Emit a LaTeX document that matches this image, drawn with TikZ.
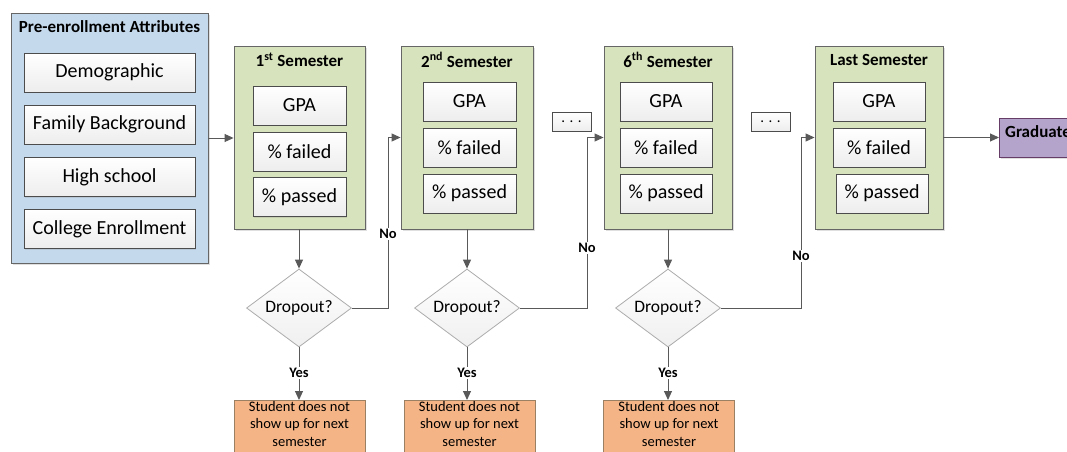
\documentclass[tikz,border=0pt]{standalone}
\usepackage{fontspec}
\setmainfont{Carlito}
\usetikzlibrary{arrows.meta,shapes.geometric,shadows}
\definecolor{preblue}{RGB}{197,217,236}
\definecolor{semgreen}{RGB}{215,227,188}
\definecolor{orangebox}{RGB}{245,180,134}
\definecolor{gradpurple}{RGB}{180,164,204}
\definecolor{linegray}{RGB}{89,89,89}
\tikzset{
  outer/.style={draw=gray!80!black, line width=0.9pt, inner sep=0pt, drop shadow={shadow xshift=1.5pt,shadow yshift=-1.5pt,opacity=0.25}},
  prebox/.style={outer, fill=preblue, minimum width=197pt, minimum height=250pt},
  sembox/.style={outer, fill=semgreen, minimum height=183pt},
  attr/.style={draw=gray!60!black, line width=0.8pt, top color=white, bottom color=gray!14, minimum width=171pt, minimum height=39pt, inner sep=0pt, font=\fontsize{20}{24}\selectfont, drop shadow={shadow xshift=1pt,shadow yshift=-1pt,opacity=0.2}},
  item/.style={attr, minimum width=93pt},
  dots/.style={attr, minimum width=39pt, minimum height=19pt, font=\fontsize{15}{16}\selectfont},
  title/.style={font=\bfseries\fontsize{17}{19}\selectfont, inner sep=0pt},
  decision/.style={diamond, aspect=1.35, draw=gray!65, line width=0.8pt, top color=white, bottom color=gray!12, minimum width=105pt, minimum height=78pt, inner sep=0pt, font=\fontsize{17.5}{20}\selectfont},
  outbox/.style={draw=gray!55!brown, line width=0.8pt, fill=orangebox, minimum width=131pt, minimum height=62pt, inner sep=0pt},
  outtext/.style={align=center, font=\fontsize{14.5}{17.5}\selectfont, inner sep=0pt, anchor=north},
  lbl/.style={fill=white, font=\bfseries\fontsize{14.5}{16}\selectfont, inner sep=1.5pt},
  arr/.style={draw=linegray, line width=1pt, -{Triangle[length=9pt,width=8pt]}},
  ln/.style={draw=linegray, line width=1pt}
}
\begin{document}
\begin{tikzpicture}[x=1pt,y=-1pt]
\useasboundingbox (0,0) rectangle (1067,451);
\clip (0,0) rectangle (1067,451);
% pre-enrollment
\node[prebox] (pre) at (109.5,138) {};
\node[title] (pret) at (109.5,27) {Pre-enrollment Attributes};
\node[attr] (demo) at (109.5,72.5) {Demographic};
\node[attr] (fam) at (109.5,124.5) {Family Background};
\node[attr] (hs) at (109.5,177) {High school};
\node[attr] (ce) at (109.5,229) {College Enrollment};
% semesters
\node[sembox, minimum width=131pt] (s1) at (299.5,137.5) {};
\node[title] (s1t) at (299.5,60) {1\textsuperscript{st} Semester};
\node[item] (s1a) at (299.5,105.5) {GPA};
\node[item] (s1b) at (299.5,151.5) {\% failed};
\node[item] (s1c) at (299.5,197) {\% passed};

\node[sembox, minimum width=132pt] (s2) at (467,137.5) {};
\node[title] (s2t) at (467,60) {2\textsuperscript{nd} Semester};
\node[item] (s2a) at (469.5,101.5) {GPA};
\node[item] (s2b) at (469.5,147.5) {\% failed};
\node[item] (s2c) at (469.5,193.5) {\% passed};

\node[dots] (dt1) at (571.5,121.5) {. . .};

\node[sembox, minimum width=128pt] (s6) at (668,137.5) {};
\node[title] (s6t) at (668,60) {6\textsuperscript{th} Semester};
\node[item, minimum width=92pt] (s6a) at (666,101.5) {GPA};
\node[item, minimum width=92pt] (s6b) at (666,147.5) {\% failed};
\node[item, minimum width=92pt] (s6c) at (666,193.5) {\% passed};

\node[dots] (dt2) at (770.5,121.5) {. . .};

\node[sembox, minimum width=128pt] (sl) at (879,137.5) {};
\node[title] (slt) at (879,60) {Last Semester};
\node[item, minimum width=92pt] (sla) at (879,101.5) {GPA};
\node[item, minimum width=92pt] (slb) at (879,147.5) {\% failed};
\node[item, minimum width=92pt] (slc) at (882,193.5) {\% passed};

% graduate
\node[outer, fill=gradpurple, draw=gray!60!violet!80!black, minimum width=100pt, minimum height=39pt, anchor=west] (grad) at (999,137.5) {};
\node[title, anchor=west] (gradt) at (1005,132) {Graduate};

% decisions
\node[decision] (d1) at (299,308) {Dropout?};
\node[decision] (d2) at (467,308) {Dropout?};
\node[decision] (d3) at (668,308) {Dropout?};

% outcome boxes
\node[outbox, anchor=north] (o1) at (299.5,400) {};
\node[outtext] (o1t) at (299.5,401) {Student does not\\show up for next\\semester};
\node[outbox, anchor=north] (o2) at (469.5,400) {};
\node[outtext] (o2t) at (469.5,401) {Student does not\\show up for next\\semester};
\node[outbox, anchor=north] (o3) at (669,400) {};
\node[outtext] (o3t) at (669,401) {Student does not\\show up for next\\semester};

% connectors
\draw[arr] (pre.east) -- (pre.east -| s1.west);
\draw[arr] (sl.east) -- (grad.west);

\draw[arr] (s1.south -| d1.north) -- (d1.north);
\draw[arr] (s2.south) -- (d2.north);
\draw[arr] (s6.south) -- (d3.north);

\coordinate (n1) at (388,137.5);
\coordinate (n2) at (587,137.5);
\coordinate (n3) at (801,137.5);
\draw[arr] (d1.east) -| (n1) -- (s2.west);
\draw[arr] (d2.east) -| (n2) -- (s6.west);
\draw[arr] (d3.east) -| (n3) -- (sl.west);
\node[lbl] (no1) at (388,234) {No};
\node[lbl] (no2) at (587,248) {No};
\node[lbl] (no3) at (801,256) {No};

\draw[arr] (d1.south) -- (d1.south |- o1.north);
\draw[arr] (d2.south) -- (d2.south |- o2.north);
\draw[arr] (d3.south) -- (d3.south |- o3.north);
\node[lbl] (y1) at (299,373) {Yes};
\node[lbl] (y2) at (467,373) {Yes};
\node[lbl] (y3) at (668,373) {Yes};
\end{tikzpicture}
\end{document}
